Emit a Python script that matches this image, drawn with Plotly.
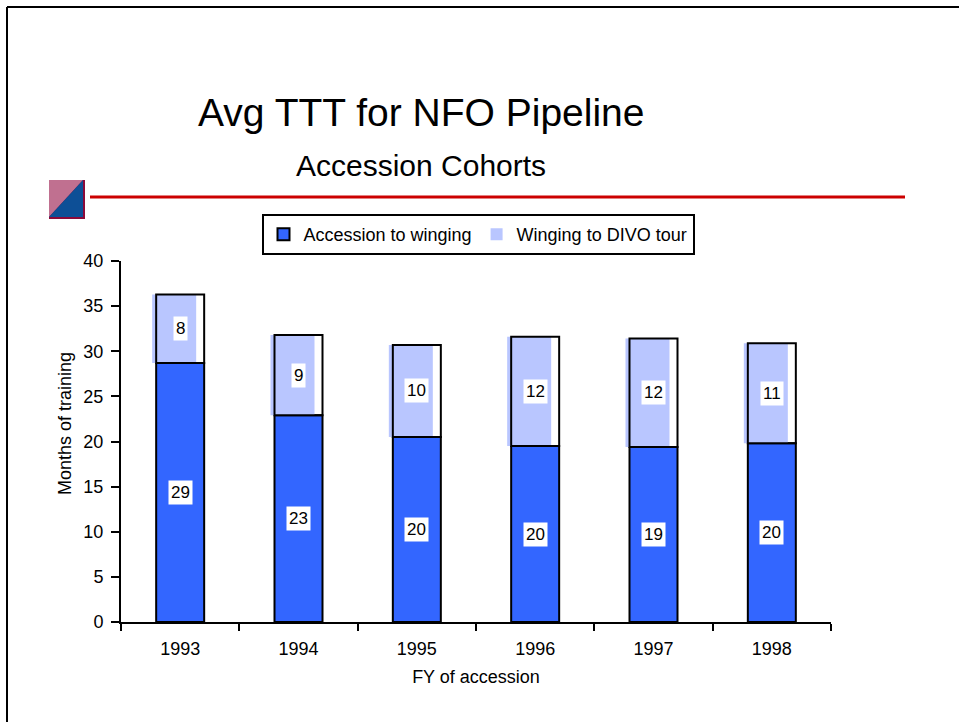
import plotly.graph_objects as go

# FY of accession cohorts
years = ["1993", "1994", "1995", "1996", "1997", "1998"]
# months
accession_to_winging = [28.7, 22.9, 20.5, 19.5, 19.4, 19.8]
winging_to_divo = [7.6, 8.9, 10.2, 12.1, 12.0, 11.1]
# the rounded labels printed on the bars
lbl_bottom = ["29", "23", "20", "20", "19", "20"]
lbl_top = ["8", "9", "10", "12", "12", "11"]

W, H = 959, 722
L, R, T, B = 121, 128, 261, 100
pw, ph = W - L - R, H - T - B

def px(x):
    return (x - L) / pw

def py(y):
    return (H - B - y) / ph

FONT = "Liberation Sans, Arial, sans-serif"

cat = pw / len(years)
bw = 48 / cat       # bar width in category units
fw = 44 / cat       # the dotted fill is a bit narrower and shifted left
fo = -bw / 2 - 4 / cat

fig = go.Figure()
fig.add_trace(go.Bar(x=years, y=accession_to_winging, name="Accession to winging",
                     width=bw, offset=-bw / 2,
                     marker=dict(color="#3366ff", line=dict(color="black", width=2))))
fig.add_trace(go.Bar(x=years, y=winging_to_divo, base=accession_to_winging,
                     name="Winging to DIVO tour", width=fw, offset=fo,
                     marker=dict(color="white", line=dict(width=0),
                                 pattern=dict(shape=".", fgcolor="#5f7dff", bgcolor="white",
                                              size=2, solidity=0.5, fillmode="replace"))))
fig.add_trace(go.Bar(x=years, y=winging_to_divo, base=accession_to_winging,
                     showlegend=False, width=bw, offset=-bw / 2, hoverinfo="skip",
                     marker=dict(color="rgba(0,0,0,0)", line=dict(color="black", width=2))))

anns = []
for i, yr in enumerate(years):
    b = accession_to_winging[i]
    t = winging_to_divo[i]
    # category index, a year string would be read as a number
    anns.append(dict(x=i, y=b / 2, text=lbl_bottom[i]))
    anns.append(dict(x=i, y=b + t / 2, text=lbl_top[i]))
for a in anns:
    a.update(xref="x", yref="y", showarrow=False, bgcolor="white", borderpad=2,
             font=dict(family=FONT, size=17, color="black"))

anns.append(dict(text="Avg TTT for NFO Pipeline", xref="paper", yref="paper",
                 x=px(421), y=py(113), yanchor="middle", showarrow=False,
                 font=dict(family=FONT, size=39, color="black")))
anns.append(dict(text="Accession Cohorts", xref="paper", yref="paper",
                 x=px(421), y=py(165), yanchor="middle", showarrow=False,
                 font=dict(family=FONT, size=30, color="black")))
anns.append(dict(text="Months of training", xref="paper", yref="paper",
                 x=px(65), y=py(424), xanchor="center", yanchor="middle",
                 textangle=-90, showarrow=False,
                 font=dict(family=FONT, size=18, color="black")))

shapes = [
    # slide frame
    dict(type="line", xref="paper", yref="paper", x0=px(7), x1=px(970), y0=py(7), y1=py(7),
         line=dict(color="black", width=2)),
    dict(type="line", xref="paper", yref="paper", x0=px(7), x1=px(7), y0=py(7), y1=py(730),
         line=dict(color="black", width=2)),
    # red rule under the title
    dict(type="line", xref="paper", yref="paper", x0=px(90), x1=px(905), y0=py(197), y1=py(197),
         line=dict(color="#cc0000", width=3)),
    # little logo square
    dict(type="rect", xref="paper", yref="paper", x0=px(49), x1=px(85), y0=py(180), y1=py(219),
         fillcolor="#8b0a3a", line=dict(width=0)),
    dict(type="path", xref="paper", yref="paper",
         path=f"M {px(49)},{py(180)} L {px(83)},{py(180)} L {px(49)},{py(217)} Z",
         fillcolor="#c07090", line=dict(width=0)),
    dict(type="path", xref="paper", yref="paper",
         path=f"M {px(83)},{py(180)} L {px(83)},{py(217)} L {px(49)},{py(217)} Z",
         fillcolor="#0d4f96", line=dict(width=0)),
]

fig.update_layout(
    width=W, height=H, margin=dict(l=L, r=R, t=T, b=B),
    paper_bgcolor="white", plot_bgcolor="white",
    barmode="overlay",
    font=dict(family=FONT, size=18, color="black"),
    legend=dict(orientation="h", x=px(478), xanchor="center", y=py(214), yanchor="top",
                bordercolor="black", borderwidth=2, bgcolor="white",
                font=dict(size=18), itemwidth=30, tracegroupgap=0),
    annotations=anns, shapes=shapes,
    showlegend=True,
)
fig.update_xaxes(type="category", range=[-0.5, len(years) - 0.5],
                 showline=True, linecolor="black", linewidth=2,
                 ticks="outside", tickson="boundaries", ticklen=7, tickwidth=2,
                 tickcolor="black", ticklabelstandoff=9, showgrid=False,
                 title=dict(text="FY of accession", standoff=13, font=dict(size=18)))
fig.update_yaxes(range=[0, 40], dtick=5, showline=True, linecolor="black", linewidth=2,
                 ticks="outside", ticklen=8, tickwidth=1.5, tickcolor="black",
                 showgrid=False, zeroline=False, ticklabelstandoff=4)

# page body has an 8px margin by default, drop it so the figure sits at 0,0
fig.write_html("out.html", post_script="document.body.style.margin='0';",
               config={"displayModeBar": False})
